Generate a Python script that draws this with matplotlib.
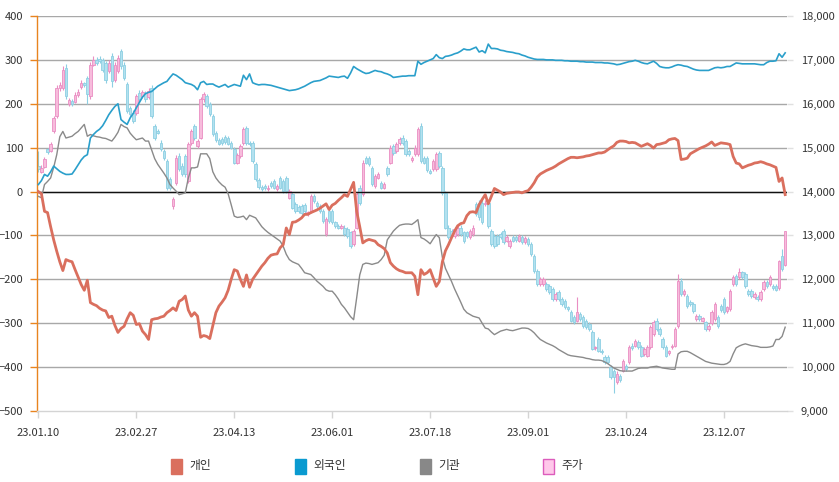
import matplotlib
matplotlib.use("Agg")
import matplotlib.pyplot as plt
from matplotlib.patches import Rectangle
from matplotlib.ticker import FuncFormatter

plt.rcParams['font.family'] = ['Noto Sans CJK KR', 'DejaVu Sans']

# ---------------- data ----------------
tick_labels = ["23.01.10", "23.02.27", "23.04.13", "23.06.01", "23.07.18", "23.09.01", "23.10.24", "23.12.07"]
tick_index = [0, 32, 64, 96, 128, 160, 192, 224]
series_names = ["개인", "외국인", "기관", "주가"]

individual = [0, -5, -45, -48, -80, -110, -136, -160, -180, -155,
              -158, -160, -178, -195, -212, -225, -202, -253, -257, -260,
              -266, -270, -272, -287, -284, -305, -321, -312, -307, -290,
              -276, -282, -303, -301, -318, -326, -337, -292, -290, -289,
              -286, -284, -276, -271, -265, -271, -250, -246, -238, -270,
              -284, -276, -284, -332, -328, -330, -335, -305, -276, -261,
              -252, -242, -225, -200, -178, -181, -200, -216, -190, -218,
              -200, -190, -180, -170, -162, -152, -145, -143, -142, -128,
              -121, -83, -98, -70, -69, -65, -60, -52, -52, -48,
              -45, -42, -38, -33, -28, -41, -31, -27, -20, -14,
              -7, -11, 5, 21, -45, -80, -117, -112, -109, -111,
              -113, -121, -125, -130, -140, -162, -170, -176, -180, -182,
              -185, -185, -185, -193, -235, -178, -189, -185, -178, -197,
              -216, -205, -160, -135, -121, -105, -90, -78, -73, -71,
              -55, -47, -46, -48, -30, -18, -7, -28, -11, 7,
              3, -1, -7, -4, -3, -2, -1, -1, -3, 0,
              2, 10, 20, 33, 40, 44, 48, 51, 54, 58,
              63, 67, 71, 75, 78, 78, 77, 78, 79, 81,
              82, 84, 86, 88, 88, 90, 95, 100, 104, 112,
              115, 115, 114, 111, 112, 111, 107, 103, 106, 109,
              105, 99, 107, 108, 110, 112, 118, 120, 121, 116,
              73, 74, 76, 86, 90, 94, 98, 101, 104, 108,
              113, 105, 108, 111, 110, 109, 107, 80, 65, 63,
              54, 57, 60, 62, 65, 66, 68, 66, 63, 61,
              58, 55, 23, 31, -7]

foreign = [16, 25, 39, 35, 45, 58, 52, 46, 42, 39,
           39, 40, 50, 61, 72, 80, 84, 122, 130, 137,
           142, 150, 162, 175, 185, 194, 200, 164, 158, 153,
           168, 178, 191, 203, 215, 223, 226, 228, 234, 240,
           244, 248, 251, 260, 268, 265, 260, 255, 248, 246,
           244, 240, 232, 248, 251, 244, 245, 245, 241, 238,
           241, 244, 238, 241, 244, 242, 240, 265, 255, 268,
           248, 245, 243, 244, 244, 243, 242, 240, 238, 236,
           234, 232, 230, 231, 232, 234, 237, 240, 244, 248,
           251, 252, 253, 256, 259, 263, 262, 261, 260, 262,
           263, 258, 270, 285, 280, 276, 272, 269, 270, 273,
           276, 274, 273, 270, 268, 265, 260, 261, 262, 263,
           263, 264, 264, 264, 297, 290, 294, 297, 300, 303,
           312, 305, 303, 308, 309, 311, 314, 316, 320, 325,
           323, 323, 326, 329, 318, 321, 316, 336, 326, 326,
           325, 322, 321, 319, 318, 317, 315, 314, 311, 309,
           306, 304, 302, 301, 301, 301, 300, 300, 300, 299,
           299, 299, 298, 298, 297, 297, 297, 296, 296, 295,
           295, 295, 294, 294, 294, 293, 293, 292, 291, 289,
           290, 292, 294, 296, 297, 299, 297, 294, 292, 291,
           294, 297, 292, 285, 283, 282, 282, 284, 287, 289,
           288, 286, 285, 282, 279, 277, 276, 276, 276, 276,
           279, 282, 283, 282, 283, 285, 285, 289, 293, 292,
           291, 291, 291, 291, 291, 290, 289, 289, 294, 297,
           297, 298, 314, 306, 316]

institution = [-11, -14, 16, 23, 31, 55, 84, 125, 137, 122,
               124, 126, 132, 137, 145, 153, 126, 130, 127, 125,
               124, 122, 121, 118, 115, 124, 135, 153, 148, 145,
               133, 125, 118, 120, 122, 115, 115, 95, 75, 62,
               52, 42, 31, 16, 8, 1, -7, -5, -3, 31,
               54, 54, 56, 86, 86, 86, 75, 45, 31, 22,
               15, 10, -5, -30, -56, -59, -58, -56, -64, -54,
               -57, -60, -70, -80, -87, -93, -98, -103, -108, -113,
               -125, -143, -155, -160, -163, -166, -175, -185, -187, -189,
               -196, -204, -210, -216, -224, -227, -227, -235, -245, -257,
               -265, -275, -285, -292, -242, -190, -166, -163, -164, -166,
               -164, -162, -155, -145, -110, -100, -90, -83, -77, -75,
               -74, -74, -75, -70, -64, -105, -108, -113, -119, -108,
               -98, -105, -150, -175, -190, -205, -222, -237, -252, -268,
               -276, -280, -284, -286, -288, -300, -311, -313, -320, -326,
               -322, -318, -316, -314, -316, -317, -315, -313, -311, -311,
               -312, -316, -322, -330, -337, -341, -345, -348, -351, -355,
               -360, -364, -368, -372, -374, -375, -376, -377, -378, -380,
               -381, -383, -384, -384, -385, -388, -392, -397, -402, -405,
               -408, -409, -409, -409, -409, -406, -403, -402, -402, -402,
               -400, -399, -398, -400, -402, -403, -404, -405, -405, -370,
               -365, -364, -364, -367, -371, -375, -379, -383, -387, -389,
               -391, -392, -393, -394, -394, -392, -387, -370, -356, -352,
               -349, -347, -349, -351, -352, -353, -355, -355, -355, -354,
               -352, -337, -337, -330, -309]

price_open = [14583, 14447, 14560, 14962, 14924, 15379, 15720, 16364, 16364, 16818,
              16000, 16060, 16050, 16200, 16386, 16470, 16591, 16174, 16894, 17008,
              17023, 17008, 16932, 16742, 17083, 16553, 16742, 17197, 16894, 16440,
              15909, 15795, 15795, 16250, 16174, 16250, 16150, 16364, 15492, 15379,
              15114, 14924, 14697, 14280, 13674, 14205, 14811, 14580, 14811, 14242,
              15114, 15493, 15038, 15228, 16100, 16175, 16000, 15721, 15342, 15167,
              15200, 15243, 15213, 15100, 14963, 14659, 14811, 15114, 15440, 15114,
              15114, 14618, 14258, 14106, 14129, 14053, 14205, 14243, 14053, 14318,
              14243, 14303, 13864, 13939, 13712, 13651, 13674, 13697, 13485, 13560,
              13901, 13750, 13674, 13560, 13030, 13560, 13560, 13295, 13219, 13181,
              13181, 13143, 13068, 12802, 13181, 14091, 13939, 14773, 14758, 14546,
              14129, 14318, 14205, 14091, 14531, 14659, 15038, 14925, 15114, 15228,
              15152, 14925, 14713, 14849, 14849, 15493, 14773, 14758, 14470, 14508,
              14508, 14887, 14546, 13977, 13181, 13100, 12992, 13030, 13181, 13068,
              13068, 12969, 13030, 13712, 13750, 13750, 13712, 13750, 13106, 12992,
              12992, 13030, 13106, 12878, 12765, 12954, 12954, 12878, 12954, 12840,
              12915, 12802, 12537, 12196, 11893, 11893, 11893, 11850, 11779, 11552,
              11703, 11552, 11514, 11362, 11249, 11135, 11059, 11211, 11135, 11059,
              10983, 10794, 10437, 10642, 10377, 10225, 10225, 9998, 9922, 9657,
              9808, 9922, 10036, 10111, 10490, 10490, 10566, 10453, 10301, 10263,
              10453, 10756, 11059, 10870, 10642, 10453, 10316, 10453, 10490, 10945,
              11969, 11665, 11628, 11476, 11438, 11097, 11173, 11059, 11021, 10870,
              11000, 11097, 11135, 11400, 11552, 11287, 11324, 11893, 12082, 12044,
              12158, 12120, 11741, 11741, 11590, 11600, 11552, 11779, 11931, 11893,
              11855, 11843, 11810, 12525, 12337]

price_close = [14508, 14545, 14735, 14900, 15076, 15682, 16364, 16417, 16780, 16174,
               16076, 15990, 16200, 16265, 16477, 16420, 16212, 16894, 17008, 16932,
               16970, 16780, 16553, 16932, 16515, 16894, 17045, 16856, 16591, 15833,
               15758, 15606, 16174, 16099, 16265, 16099, 16300, 15720, 15227, 15341,
               14962, 14773, 14091, 14091, 13826, 14773, 14508, 14394, 14394, 15076,
               15379, 15228, 15152, 16100, 16213, 15948, 15760, 15304, 15167, 15092,
               15100, 15120, 15092, 15000, 14659, 14834, 15038, 15417, 15114, 15080,
               14697, 14280, 14106, 14053, 14076, 14091, 14129, 14091, 14129, 14091,
               14015, 14015, 14015, 13636, 13560, 13560, 13500, 13560, 13530, 13901,
               13788, 13674, 13560, 13333, 13371, 13333, 13295, 13219, 13181, 13219,
               13030, 12992, 12765, 13106, 13939, 13750, 14659, 14659, 14622, 14167,
               14356, 14394, 14091, 14167, 14394, 15000, 14887, 15076, 15190, 15114,
               14849, 14849, 14758, 15000, 15417, 14697, 14659, 14480, 14432, 14697,
               14849, 14584, 13977, 13181, 12954, 13000, 13143, 13181, 13030, 12878,
               12992, 13106, 13181, 13485, 13409, 13295, 13750, 13219, 12802, 12765,
               12802, 12954, 12840, 12954, 12878, 12878, 12900, 12992, 12840, 12940,
               12802, 12575, 12196, 11893, 12006, 12006, 11779, 11703, 11552, 11665,
               11552, 11438, 11362, 11324, 11059, 11021, 11249, 11097, 10945, 10907,
               10870, 10415, 10453, 10377, 10339, 10111, 10111, 9770, 9770, 9846,
               9695, 10149, 9960, 10453, 10430, 10604, 10453, 10263, 10415, 10453,
               10907, 11021, 10870, 10756, 10453, 10263, 10362, 10490, 10870, 11969,
               11665, 11741, 11400, 11438, 11287, 11173, 11097, 11110, 10870, 10945,
               11250, 11438, 10945, 11300, 11250, 11362, 11741, 12044, 11893, 12158,
               12044, 11850, 11665, 11620, 11665, 11552, 11703, 11931, 11850, 12044,
               11800, 11768, 12410, 12225, 13096]

price_high = [14925, 14600, 14780, 15000, 15120, 15720, 16420, 16500, 16860, 16900,
              16130, 16100, 16260, 16330, 16550, 16500, 16640, 16950, 17080, 17060,
              17080, 17050, 16980, 17000, 17150, 16950, 17100, 17250, 16950, 16500,
              15960, 15850, 16230, 16310, 16320, 16300, 16360, 16420, 15550, 15420,
              15170, 14980, 14750, 14330, 13880, 14830, 14870, 14640, 14860, 15120,
              15430, 15540, 15200, 16150, 16270, 16230, 16050, 15770, 15390, 15210,
              15250, 15290, 15260, 15150, 15010, 14880, 15080, 15470, 15490, 15160,
              15160, 14670, 14310, 14150, 14180, 14140, 14250, 14290, 14170, 14360,
              14290, 14350, 14060, 13980, 13760, 13700, 13720, 13740, 13560, 13950,
              13950, 13790, 13720, 13600, 13420, 13610, 13600, 13340, 13260, 13260,
              13230, 13190, 13110, 13150, 13990, 14140, 14710, 14820, 14800, 14590,
              14400, 14440, 14250, 14210, 14580, 15050, 15080, 15120, 15240, 15280,
              15200, 14970, 14800, 15050, 15470, 15560, 14820, 14800, 14510, 14740,
              14900, 14930, 14590, 14020, 13230, 13150, 13190, 13230, 13230, 13110,
              13110, 13150, 13230, 13760, 13800, 13800, 13800, 13800, 13150, 13040,
              13040, 13070, 13150, 13000, 12920, 13000, 13000, 13040, 13000, 12980,
              12960, 12840, 12580, 12240, 12050, 12050, 11940, 11900, 11820, 11710,
              11750, 11600, 11560, 11400, 11290, 11180, 11600, 11250, 11180, 11100,
              11030, 10840, 10480, 10690, 10420, 10270, 10270, 10040, 9960, 9900,
              9850, 10190, 10080, 10500, 10540, 10650, 10610, 10500, 10460, 10500,
              10950, 11070, 11110, 10910, 10690, 10500, 10400, 10530, 10910, 12120,
              12020, 11790, 11670, 11520, 11480, 11210, 11220, 11150, 11060, 10980,
              11290, 11480, 11180, 11440, 11600, 11400, 11790, 12100, 12130, 12250,
              12200, 12160, 11790, 11790, 11710, 11640, 11750, 11980, 11980, 12090,
              11900, 11890, 12430, 12700, 13110]

price_low = [14450, 14420, 14540, 14860, 14900, 15340, 15680, 16300, 16320, 16100,
             15960, 15950, 16020, 16160, 16340, 16380, 16000, 16120, 16850, 16880,
             16920, 16720, 16480, 16700, 16380, 16500, 16700, 16800, 16540, 15780,
             15700, 15560, 15740, 16050, 16130, 16050, 16100, 15680, 15180, 15300,
             14920, 14730, 14040, 14040, 13600, 14150, 14460, 14350, 14340, 14200,
             15070, 15180, 15000, 15190, 16050, 15900, 15720, 15260, 15120, 15050,
             15060, 15080, 15050, 14960, 14620, 14620, 14770, 15070, 15070, 15040,
             14650, 14240, 14060, 14010, 14040, 14010, 14090, 14050, 14010, 14050,
             13970, 13970, 13820, 13600, 13520, 13520, 13460, 13520, 13450, 13520,
             13750, 13630, 13520, 13290, 12990, 13290, 13250, 13180, 13140, 13140,
             12990, 12950, 12720, 12760, 13140, 13700, 13900, 14620, 14580, 14120,
             14090, 14280, 14050, 14050, 14350, 14620, 14840, 14880, 15070, 15070,
             14800, 14800, 14670, 14810, 14800, 14650, 14620, 14440, 14390, 14470,
             14470, 14540, 13930, 13140, 12910, 12960, 12950, 12990, 12990, 12830,
             12950, 12930, 12990, 13440, 13360, 13250, 13670, 13180, 12760, 12720,
             12760, 12910, 12800, 12840, 12720, 12840, 12860, 12840, 12800, 12800,
             12760, 12540, 12150, 11850, 11850, 11850, 11740, 11660, 11510, 11510,
             11510, 11400, 11320, 11280, 11020, 10980, 11020, 11060, 10900, 10870,
             10830, 10380, 10400, 10340, 10300, 10070, 10070, 9730, 9400, 9620,
             9650, 9880, 9920, 10070, 10390, 10450, 10410, 10220, 10260, 10220,
             10410, 10710, 10830, 10710, 10410, 10220, 10280, 10410, 10450, 10880,
             11620, 11620, 11350, 11400, 11240, 11050, 11050, 11020, 10820, 10830,
             10960, 11050, 10900, 11260, 11200, 11240, 11280, 11850, 11840, 12000,
             12000, 11800, 11620, 11580, 11550, 11510, 11510, 11740, 11810, 11850,
             11760, 11730, 11760, 12190, 12300]

# ---------------- styling ----------------
C_IND = '#da6f5e'
C_FOR = '#2a9fcb'
C_INS = '#8a8a8a'
UP_FILL, UP_EDGE = '#f7bcdc', '#ea8ec3'
DN_FILL, DN_EDGE = '#b3e1ef', '#8dcfe3'
GRID = '#a8a8a8'
TXT = '#333333'

W, H = 839, 482
fig = plt.figure(figsize=(W / 100, H / 100), dpi=100)
ax = fig.add_axes([37 / W, 71 / H, 750 / W, 395 / H])
ax2 = ax.twinx()

n = len(price_close)
x = list(range(n))

# candles on the right axis (drawn below the lines)
for i in x:
    o, c = price_open[i], price_close[i]
    up = c >= o
    fill, edge = (UP_FILL, UP_EDGE) if up else (DN_FILL, DN_EDGE)
    ax2.vlines(i, price_low[i], price_high[i], color=edge, lw=0.8, zorder=2)
    lo, hi = min(o, c), max(o, c)
    ax2.bar(i, max(hi - lo, 25), bottom=lo, width=0.82, color=fill,
            edgecolor=edge, linewidth=0.6, zorder=3)

ax2.set_ylim(9000, 18000)
for v in range(10000, 18001, 1000):
    ax2.axhline(v, color=GRID, lw=1.0, zorder=0)

# lines on the left axis
ax.set_zorder(ax2.get_zorder() + 1)
ax.patch.set_visible(False)
ax.axhline(0, color='#111111', lw=1.0, zorder=1)
ax.plot(x, institution, color=C_INS, lw=1.0, zorder=3)
ax.plot(x, foreign, color=C_FOR, lw=1.2, zorder=4)
ax.plot(x, individual, color=C_IND, lw=2.0, zorder=5)

ax.set_ylim(-500, 400)
ax.set_xlim(-0.45, 244.6)
ax.set_yticks(range(-500, 401, 100))
ax2.set_yticks(range(9000, 18001, 1000))
ax2.yaxis.set_major_formatter(FuncFormatter(lambda v, p: f"{int(v):,}"))
ax.set_xticks(tick_index)
ax.set_xticklabels(tick_labels)

for s in ['top', 'right']:
    ax.spines[s].set_visible(False)
for s in ax2.spines.values():
    s.set_visible(False)
ax.spines['left'].set_color('#e8841f')
ax.spines['left'].set_linewidth(1.0)
ax.spines['bottom'].set_color('#d4d4d4')
ax.spines['bottom'].set_linewidth(1.0)

ax.tick_params(axis='y', colors='#e8841f', labelcolor=TXT, length=5, width=1, pad=5, labelsize=8)
ax.tick_params(axis='x', colors='#d4d4d4', labelcolor=TXT, length=5, width=1, pad=7, labelsize=8)
ax2.tick_params(axis='y', colors='#e0e0e0', labelcolor=TXT, length=4, width=1, pad=6, labelsize=8)

# legend (manual, figure pixel coords)
legend_colors = [(C_IND, C_IND), ('#0a9ad0', '#0a9ad0'), ('#888888', '#888888'), ('#ffc8ea', '#dc5cbc')]
legend_x = [171, 295, 420, 543]
for name, (fc, ec), lx in zip(series_names, legend_colors, legend_x):
    fig.add_artist(Rectangle((lx / W, (H - 474) / H), 11 / W, 15 / H,
                             transform=fig.transFigure, facecolor=fc, edgecolor=ec, lw=1.0))
    fig.text((lx + 18) / W, (H - 466) / H, name, ha='left', va='center',
             fontsize=8.5, color=TXT)

fig.savefig('out.png', dpi=100)
